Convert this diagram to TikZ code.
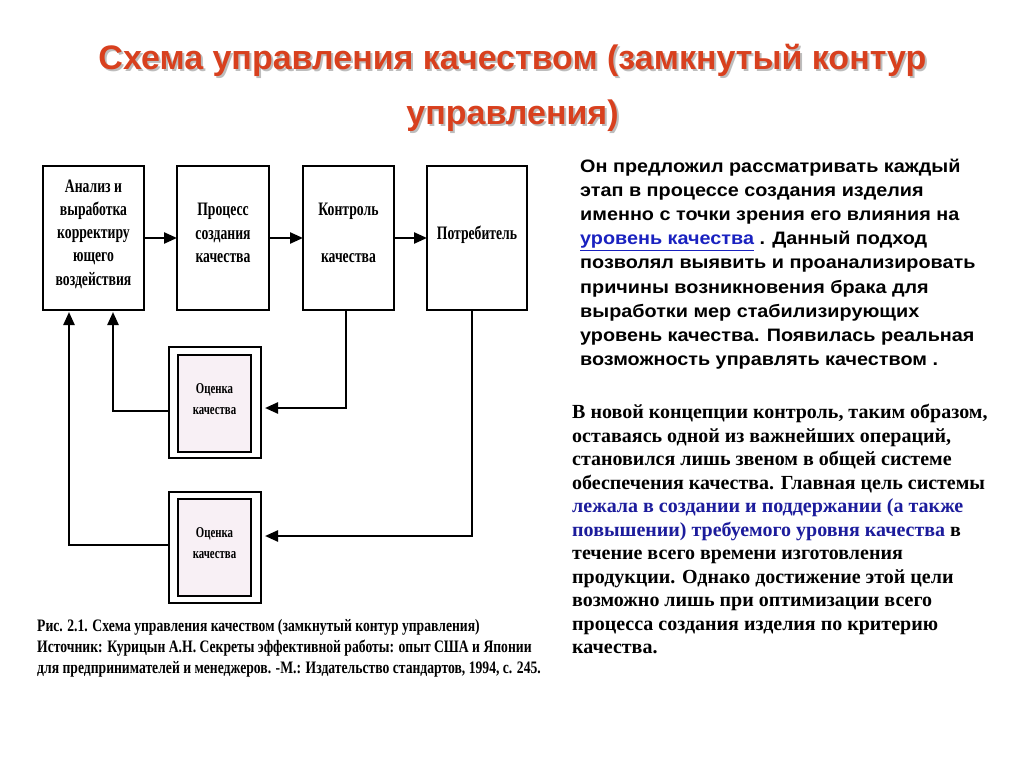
\documentclass[tikz,border=0pt]{standalone}
\usepackage{fontspec}
\setmainfont{Liberation Serif}
\newfontfamily\titlefont{Liberation Sans}
\newfontfamily\parsans[FakeStretch=1.1]{Liberation Sans}
\newfontfamily\condserif[FakeStretch=0.72]{Liberation Serif}
\newfontfamily\capserif[FakeStretch=0.78]{Liberation Serif}
\usetikzlibrary{arrows.meta}
\definecolor{titlered}{HTML}{D8401E}
\definecolor{shadowgray}{HTML}{BDBDBD}
\definecolor{linkblue}{HTML}{1A22C0}
\definecolor{textblue}{HTML}{1C1C9C}
\definecolor{evalpink}{HTML}{F8F0F5}
\tikzset{
  box/.style={draw, line width=1.3pt, inner sep=0pt, outer sep=0pt, minimum height=144pt},
  boxtext/.style={inner sep=0pt, align=center, font=\condserif\bfseries\fontsize{19}{23.3}\selectfont},
  evalouter/.style={draw, line width=1.3pt, minimum width=92pt, minimum height=111pt, inner sep=0pt, outer sep=0pt},
  evalinner/.style={draw, line width=1.3pt, fill=evalpink, minimum width=73pt, minimum height=97pt, inner sep=0pt},
  evaltext/.style={inner sep=0pt, align=center, font=\condserif\bfseries\fontsize{15}{21}\selectfont},
  conn/.style={line width=2.4pt},
  arr/.style={conn, -{Triangle[length=13pt,width=11pt]}},
  titletext/.style={inner sep=0pt, font=\titlefont\bfseries\fontsize{34}{40}\selectfont},
}
\begin{document}
\begin{tikzpicture}[x=1pt,y=-1pt]
\useasboundingbox[fill=white] (0,0) rectangle (1024,767);
% title
\node[titletext, text=shadowgray, anchor=base] (ts1) at (514.5,72) {Схема управления качеством (замкнутый контур};
\node[titletext, text=shadowgray, anchor=base] (ts2) at (514.5,127) {управления)};
\node[titletext, text=titlered, anchor=base] (t1) at (512.5,70) {Схема управления качеством (замкнутый контур};
\node[titletext, text=titlered, anchor=base] (t2) at (512.5,125) {управления)};
% top row
\node[box, minimum width=101pt] (b1) at (93.5,238) {};
\node[box, minimum width=92pt] (b2) at (223,238) {};
\node[box, minimum width=91pt] (b3) at (348.5,238) {};
\node[box, minimum width=100pt] (b4) at (477,238) {};
\node[boxtext] (b1t) at ([yshift=4pt]b1.center) {Анализ и\\выработка\\корректиру\\ющего\\воздействия};
\node[boxtext] (b2t) at ([yshift=5pt]b2.center) {Процесс\\создания\\качества};
\node[boxtext] (b3t) at ([yshift=5pt]b3.center) {Контроль\\[23.7pt]качества};
\node[boxtext] (b4t) at ([yshift=3pt]b4.center) {Потребитель};
\draw[arr] (b1) -- (b2);
\draw[arr] (b2) -- (b3);
\draw[arr] (b3) -- (b4);
% evaluation boxes
\node[evalouter] (e1o) at (215,402.5) {};
\node[evalinner] (e1) at (214.5,403.5) {};
\node[evaltext] (e1t) at ([yshift=4pt]e1.center) {Оценка\\качества};
\node[evalouter] (e2o) at (215,547.5) {};
\node[evalinner] (e2) at (214.5,547.5) {};
\node[evaltext] (e2t) at ([yshift=4pt]e2.center) {Оценка\\качества};
\draw[arr] ([xshift=-2.5pt]b3.south) |- ([xshift=4pt,yshift=-5.5pt]e1o.east);
\draw[arr] ([xshift=-5pt]b4.south) |- ([xshift=4pt,yshift=11.5pt]e2o.east);
\draw[arr] ([yshift=-8.5pt]e1o.west) -| ([xshift=19.5pt,yshift=-2pt]b1.south);
\draw[arr] ([yshift=2.5pt]e2o.west) -| ([xshift=-24.5pt,yshift=-2pt]b1.south);
% caption
\node[anchor=north west, inner sep=0pt, align=left, font=\capserif\bfseries\fontsize{17.5}{21}\selectfont] (cap) at (37,619)
{Рис. 2.1. Схема управления качеством (замкнутый контур управления)\\
Источник: Курицын А.Н. Секреты эффективной работы: опыт США и Японии\\
для предпринимателей и менеджеров. -М.: Издательство стандартов, 1994, с. 245.};
% right paragraph 1
\node[anchor=north west, inner sep=0pt, align=left, font=\parsans\bfseries\fontsize{18}{24.1}\selectfont] (p1) at (580,159)
{Он предложил рассматривать каждый\\
этап в процессе создания изделия\\
именно с точки зрения его влияния на\\
\textcolor{linkblue}{\underline{уровень качества}} . Данный подход\\
позволял выявить и проанализировать\\
причины возникновения брака для\\
выработки мер стабилизирующих\\
уровень качества. Появилась реальная\\
возможность управлять качеством .};
% right paragraph 2
\node[anchor=north west, inner sep=0pt, align=left, font=\bfseries\fontsize{20}{23.5}\selectfont] (p2) at (572,404)
{В новой концепции контроль, таким образом,\\
оставаясь одной из важнейших операций,\\
становился лишь звеном в общей системе\\
обеспечения качества. Главная цель системы\\
\textcolor{textblue}{лежала в создании и поддержании (а также}\\
\textcolor{textblue}{повышении) требуемого уровня качества} в\\
течение всего времени изготовления\\
продукции. Однако достижение этой цели\\
возможно лишь при оптимизации всего\\
процесса создания изделия по критерию\\
качества.};
\end{tikzpicture}
\end{document}
